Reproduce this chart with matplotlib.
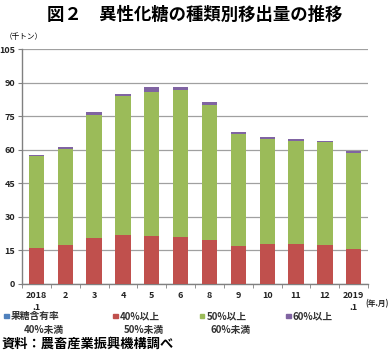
import matplotlib
matplotlib.use("Agg")
import matplotlib.pyplot as plt
import numpy as np

plt.rcParams['font.family'] = ['Noto Sans CJK JP', 'DejaVu Sans']

months = ["2018\n.1", "2", "3", "4", "5", "6", "8", "9", "10", "11", "12", "2019\n.1"]
s_below40 = [0.1, 0.1, 0.1, 0.1, 0.1, 0.1, 0.1, 0.1, 0.1, 0.1, 0.1, 0.1]
s_40_50 = [16.0, 17.4, 20.4, 21.9, 21.4, 21.0, 19.5, 16.7, 17.7, 17.6, 17.4, 15.6]
s_50_60 = [40.9, 42.9, 55.1, 61.8, 64.5, 65.7, 60.5, 50.2, 47.0, 46.2, 46.1, 42.8]
s_60_up = [0.7, 0.9, 1.2, 1.3, 2.0, 1.2, 1.3, 0.9, 0.7, 0.7, 0.5, 1.0]
legend_line1 = ["果糖含有率", "40%以上", "50%以上", "60%以上"]
legend_line2 = ["40%未満", "50%未満", "60%未満", ""]
colors = ["#4F81BD", "#C0504D", "#9BBB59", "#8064A2"]
yticks = [0, 15, 30, 45, 60, 75, 90, 105]

fig = plt.figure(figsize=(3.9, 3.57), dpi=100)
ax = fig.add_axes([0.0564, 0.2045, 0.8876, 0.6582])

x = np.arange(len(months))
bottom = np.zeros(len(months))
for vals, c in zip([s_below40, s_40_50, s_50_60, s_60_up], colors):
    ax.bar(x, vals, bottom=bottom, width=0.53, color=c, zorder=3, linewidth=0)
    bottom += np.array(vals)

ax.set_xlim(-0.5, len(months) - 0.5)
ax.set_ylim(0, 105)
ax.set_yticks(yticks)
ax.set_yticklabels([str(v) for v in yticks], fontsize=6.5, fontweight='bold',
                   color='#222222')
ax.yaxis.grid(True, color='#A0A0A0', linewidth=0.9, zorder=0)
ax.set_xticks(x)
ax.set_xticklabels(months, fontsize=6.5, fontweight='bold', linespacing=1.45,
                   va='top', color='#222222')
ax.set_xticks(np.arange(-0.5, len(months)), minor=True)
ax.tick_params(axis='x', which='major', length=0, pad=5)
ax.tick_params(axis='x', which='minor', length=3, color='#808080', direction='out')
ax.tick_params(axis='y', length=3, color='#808080', pad=2)
for s in ['top', 'right']:
    ax.spines[s].set_visible(False)
for s in ['left', 'bottom']:
    ax.spines[s].set_color('#808080')
    ax.spines[s].set_linewidth(1.0)

fig.text(0.5, 0.958, "図２　異性化糖の種類別移出量の推移", ha='center', va='center',
         fontsize=12.5, fontweight='bold')
fig.text(0.012, 0.897, "（千トン）", ha='left', va='center', fontsize=5.5)
fig.text(0.996, 0.150, "(年.月)", ha='right', va='center', fontsize=5.5,
         fontweight='bold', color='#222222')

sq_x = [0.010, 0.290, 0.512, 0.733]
for xx, l1, l2, c in zip(sq_x, legend_line1, legend_line2, colors):
    fig.patches.append(plt.Rectangle((xx, 0.108), 0.012, 0.013, transform=fig.transFigure,
                                     color=c, figure=fig))
    fig.text(xx + 0.017, 0.115, l1, ha='left', va='center', fontsize=7,
             fontweight='bold', color='#333333')
    if l2:
        fig.text(xx + 0.05 if l1 == "果糖含有率" else xx + 0.027, 0.077, l2,
                 ha='left', va='center', fontsize=7, fontweight='bold', color='#333333')

fig.text(0.005, 0.038, "資料：農畜産業振興機構調べ", ha='left', va='center',
         fontsize=9.5, fontweight='bold')

fig.savefig("out.png", dpi=100)
